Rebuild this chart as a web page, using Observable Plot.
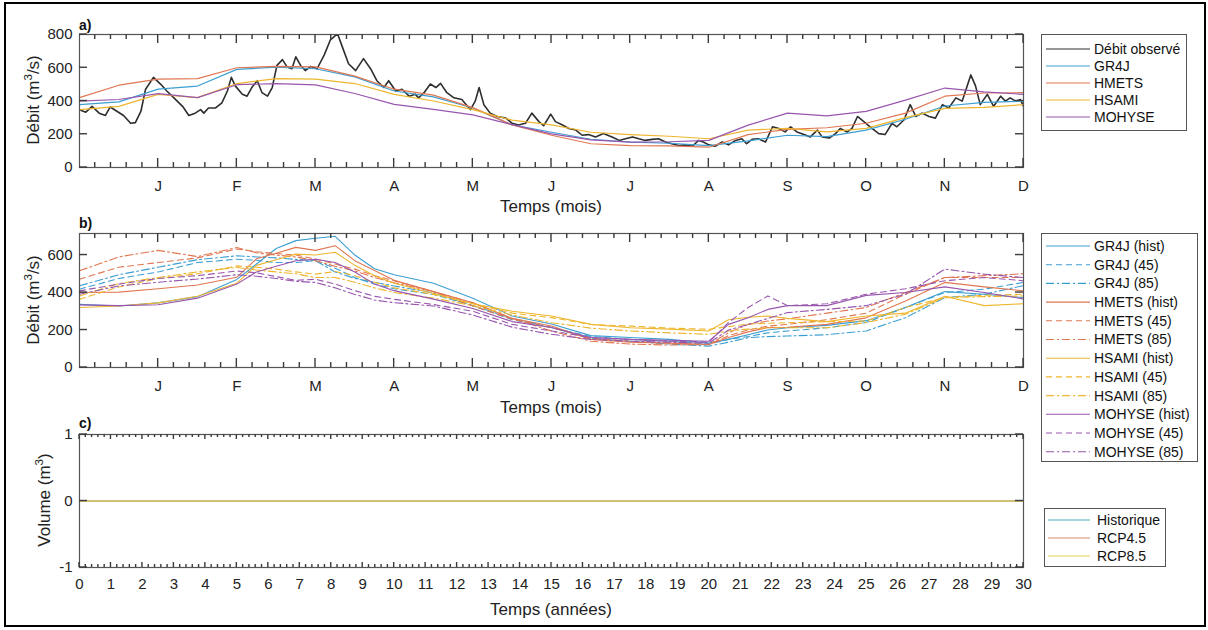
<!DOCTYPE html>
<html><head><meta charset="utf-8">
<script src="https://cdn.jsdelivr.net/npm/d3@7"></script>
<script src="https://cdn.jsdelivr.net/npm/@observablehq/plot@0.6"></script>
<style>
body{margin:0;background:#fff;font-family:"Liberation Sans",Arial,sans-serif;}
#fig{position:relative;width:1208px;height:630px;overflow:hidden;background:#fff}
#fig svg{position:absolute}
.border{position:absolute;left:4px;top:2px;width:1202px;height:625px;border:2px solid #000;box-sizing:border-box}
.lab{position:absolute;font-size:17px;color:#222;white-space:nowrap;transform:translate(-50%,-50%)}
.ylab{position:absolute;font-size:17px;color:#222;white-space:nowrap;transform:translate(-50%,-50%) rotate(-90deg)}
.plab{position:absolute;font-size:14px;font-weight:bold;color:#111;line-height:1}
sup{font-size:0.68em;line-height:0}
</style></head><body><div id="fig"><div class="border"></div></div>
<script>
// ---------- DATA ----------
const monthTicks = [1,2,3,4,5,6,7,8,9,10,11,12];
const monthLabels = ["J","F","M","A","M","J","J","A","S","O","N","D"];
const yTicksA = [0,200,400,600,800];
const yTicksB = [0,200,400,600];
const yTicksC = [-1,0,1];
const yearTicks = [0,1,2,3,4,5,6,7,8,9,10,11,12,13,14,15,16,17,18,19,20,21,22,23,24,25,26,27,28,29,30];

// Panel a) observed discharge (time in months, m3/s)
const obsT = [0,0.08,0.16,0.25,0.33,0.39,0.48,0.56,0.65,0.71,0.78,0.84,0.94,1.03,1.11,1.20,1.31,1.39,1.47,1.54,1.58,1.64,1.73,1.81,1.88,1.93,1.98,2.07,2.13,2.19,2.26,2.32,2.39,2.45,2.51,2.58,2.64,2.70,2.75,2.81,2.87,2.94,3.02,3.11,3.19,3.28,3.34,3.42,3.51,3.61,3.70,3.78,3.87,3.93,4.02,4.10,4.19,4.27,4.31,4.38,4.46,4.53,4.59,4.67,4.76,4.86,4.97,5.03,5.08,5.14,5.22,5.31,5.42,5.50,5.58,5.67,5.75,5.84,5.90,
  5.99,6.05,6.14,6.22,6.31,6.39,6.47,6.56,6.66,6.77,6.86,6.94,7.03,7.11,7.19,7.28,7.36,7.45,7.53,7.62,7.70,7.79,7.87,7.93,8.00,8.08,8.17,8.25,8.34,8.42,8.48,8.55,8.63,8.72,8.81,8.89,8.97,9.04,9.12,9.21,9.29,9.38,9.44,9.53,9.61,9.67,9.76,9.82,9.89,9.97,10.05,10.16,10.24,10.33,10.39,10.48,10.56,10.63,10.71,10.80,10.88,10.97,11.05,11.14,11.22,11.33,11.39,11.45,11.54,11.62,11.71,11.77,11.83,11.90,11.96,12.00];
const obsQ = [348,333,368,327,313,364,337,313,266,270,337,471,542,502,460,419,368,313,327,348,327,358,358,389,460,542,491,440,429,481,522,450,429,481,614,649,604,594,666,614,583,608,594,676,768,805,727,624,583,655,594,522,481,522,460,471,429,440,419,450,502,481,506,450,419,409,348,399,481,378,327,307,297,266,256,266,327,276,251,
  321,276,256,235,225,194,198,184,204,184,163,173,184,173,163,169,173,153,143,132,136,128,163,153,136,128,153,136,163,173,143,169,173,153,245,235,214,245,214,198,184,225,184,177,204,235,214,235,307,276,245,204,198,266,245,286,378,307,327,307,297,378,358,419,399,557,491,378,440,368,429,399,419,399,409,368];

// Panel a) simulated (calibration) discharge, every half month
const tA = [0,0.5,1,1.5,2,2.5,3,3.5,4,4.5,5,5.5,6,6.5,7,7.5,8,8.5,9,9.5,10,10.5,11,11.5,12];
const gr4jA   = [378,395,471,490,590,604,594,545,460,425,358,256,212,170,153,146,132,160,194,186,225,290,370,392,399];
const hmetsA  = [420,495,532,535,600,608,605,550,471,435,360,256,194,143,132,130,122,198,229,239,266,327,429,448,450];
const hsamiA  = [348,368,440,420,505,535,532,505,440,400,348,285,256,212,198,188,173,225,235,214,235,300,356,362,378];
const mohyseA = [399,409,444,420,498,504,497,445,380,350,317,258,202,166,153,155,163,255,327,310,338,405,478,455,440];

// Panel b) hist / RCP4.5 / RCP8.5 discharge
const tB = [0,0.5,1,1.5,2,2.25,2.5,2.75,3,3.25,3.5,3.75,4,4.5,5,5.5,6,6.5,7,7.5,8,8.25,8.5,8.75,9,9.5,10,10.5,11,11.5,12];
const gr4jHist   = [337,328,345,378,470,552,635,677,690,700,600,527,495,450,370,275,232,170,160,150,130,150,175,200,212,225,250,320,405,391,373];
const gr4j45     = [418,475,510,560,578,572,560,560,570,530,480,445,420,390,330,255,213,165,150,140,125,150,165,185,195,212,240,320,400,418,454];
const gr4j85     = [436,495,535,575,596,590,585,577,570,510,475,455,435,398,330,262,213,155,140,125,114,135,159,165,168,175,195,266,373,391,437];
const hmetsHist  = [400,402,420,440,482,580,610,641,625,650,570,518,465,405,345,262,221,150,135,130,123,160,190,213,215,230,265,355,454,430,409];
const hmets45    = [471,535,560,585,632,618,608,600,579,552,525,490,463,405,328,258,213,155,140,130,122,170,200,221,230,255,290,391,480,480,480];
const hmets85    = [516,590,625,592,640,612,600,590,570,540,515,480,452,405,345,262,195,140,125,120,123,185,230,248,260,290,320,400,480,490,500];
const hsamiHist  = [320,328,345,380,450,545,575,605,600,615,545,490,450,395,340,300,275,230,212,205,195,255,268,275,262,245,275,290,380,330,340];
const hsami45    = [364,430,475,500,542,535,525,510,498,512,490,455,425,390,340,290,266,230,221,210,204,218,232,236,239,244,248,320,373,385,391];
const hsami85    = [382,448,480,510,534,520,510,500,480,480,455,425,400,370,330,280,239,210,195,185,177,195,205,212,212,212,240,284,373,378,382];
const mohyseHist = [334,330,335,370,445,510,540,570,578,560,510,445,410,365,315,245,213,160,150,145,140,230,266,310,330,330,385,400,430,400,366];
const mohyse45   = [409,445,475,490,515,505,485,465,471,445,410,380,364,336,300,230,195,160,150,140,135,240,320,382,330,340,391,420,463,480,463];
const mohyse85   = [391,435,455,472,495,487,475,460,454,425,390,360,346,328,280,215,177,150,140,135,130,200,230,262,293,310,330,391,525,498,480];

// Panel c) volume (years)
const yearsC = [0,30];
const histC = [0,0];
const rcp45C = [0,0];
const rcp85C = [0,0];

// ---------- STYLE ----------
const colors = {GR4J:"#3c9fd2", HMETS:"#e07752", HSAMI:"#eeb62e", MOHYSE:"#9856ad", obs:"#2e2e2e",
                Historique:"#46a9b6", "RCP4.5":"#de8a70", "RCP8.5":"#e4d244"};
const dashes = {hist:null, "45":"6,4", "85":"8,3,2,3"};
const font = "'Liberation Sans', Arial, sans-serif";
const fig = document.getElementById("fig");

const seriesA = [
  {name:"Débit observé", color:colors.obs, t:obsT, v:obsQ, w:1.6},
  {name:"GR4J", color:colors.GR4J, t:tA, v:gr4jA, w:1.2},
  {name:"HMETS", color:colors.HMETS, t:tA, v:hmetsA, w:1.2},
  {name:"HSAMI", color:colors.HSAMI, t:tA, v:hsamiA, w:1.2},
  {name:"MOHYSE", color:colors.MOHYSE, t:tA, v:mohyseA, w:1.2}
];
const bDefs = [
  ["GR4J","hist",gr4jHist],["GR4J","45",gr4j45],["GR4J","85",gr4j85],
  ["HMETS","hist",hmetsHist],["HMETS","45",hmets45],["HMETS","85",hmets85],
  ["HSAMI","hist",hsamiHist],["HSAMI","45",hsami45],["HSAMI","85",hsami85],
  ["MOHYSE","hist",mohyseHist],["MOHYSE","45",mohyse45],["MOHYSE","85",mohyse85]
];
const seriesB = bDefs.map(([m,s,v]) => ({name:`${m} (${s})`, color:colors[m], dash:dashes[s], t:tB, v, w:1.1}));
const seriesC = [
  {name:"Historique", color:colors.Historique, t:yearsC, v:histC, w:1.2},
  {name:"RCP4.5", color:colors["RCP4.5"], t:yearsC, v:rcp45C, w:1.2},
  {name:"RCP8.5", color:colors["RCP8.5"], t:yearsC, v:rcp85C, w:1.2}
];

function lineMarks(series) {
  return series.map(s => Plot.line(s.t.map((t,i)=>({t, q:s.v[i]})),
    {x:"t", y:"q", stroke:s.color, strokeWidth:s.w, strokeDasharray:s.dash || undefined, clip:true}));
}

function panel({top, height, mt, mb, xDomain, xTicks, xFmt, xPad, yDomain, yTicks, yFmt, minorX, majorLen, minorLen, yLen, marks}) {
  const left = 79, right = 1023, W = 1208;
  const ts = "#3a3a3a";
  const svg = Plot.plot({
    width: W, height, marginLeft: left, marginRight: W - right, marginTop: mt, marginBottom: mb,
    style: {fontFamily: font, fontSize: "15px", color: "#222", background: "transparent", overflow: "visible"},
    x: {domain: xDomain, ticks: xTicks, tickFormat: xFmt, tickSize: 0, tickPadding: xPad, label: null},
    y: {domain: yDomain, ticks: yTicks, tickFormat: yFmt, tickSize: 0, tickPadding: 7, label: null},
    marks: [...marks, Plot.frame({stroke: "#555", strokeWidth: 1.2})]
  });
  // MATLAB-style inward ticks on all four sides, positioned with the plot's own scales
  const sx = svg.scale("x"), sy = svg.scale("y");
  const yb = sy.apply(yDomain[0]), yt = sy.apply(yDomain[1]);
  const xl = sx.apply(xDomain[0]), xr = sx.apply(xDomain[1]);
  const g = d3.select(svg).append("g").attr("stroke", ts).attr("stroke-width", 1.4).attr("fill", "none");
  const addV = (vals, len) => vals.forEach(v => {
    const px = sx.apply(v);
    g.append("line").attr("x1", px).attr("x2", px).attr("y1", yb).attr("y2", yb - len);
    g.append("line").attr("x1", px).attr("x2", px).attr("y1", yt).attr("y2", yt + len);
  });
  addV(minorX, minorLen);
  addV(xTicks, majorLen);
  yTicks.forEach(v => {
    const py = sy.apply(v);
    g.append("line").attr("x1", xl).attr("x2", xl + yLen).attr("y1", py).attr("y2", py);
    g.append("line").attr("x1", xr).attr("x2", xr - yLen).attr("y1", py).attr("y2", py);
  });
  svg.style.left = "0px";
  svg.style.top = top + "px";
  fig.appendChild(svg);
}

const minorMonths = d3.range(0, 12.0001, 0.2).filter(d => Math.abs(d - Math.round(d)) > 1e-6);
const minorYears = d3.range(0, 30.0001, 0.2).filter(d => Math.abs(d - Math.round(d)) > 1e-6);
const monthFmt = d => monthLabels[monthTicks.indexOf(d)];
const plainFmt = d => String(d);

panel({top:0, height:215, mt:34, mb:48, xDomain:[0,12], xTicks:monthTicks, xFmt:monthFmt, xPad:13,
  yDomain:[0,800], yTicks:yTicksA, yFmt:plainFmt, minorX:minorMonths, majorLen:9, minorLen:5, yLen:8, marks:lineMarks(seriesA)});
panel({top:215, height:200, mt:18, mb:48, xDomain:[0,12], xTicks:monthTicks, xFmt:monthFmt, xPad:13,
  yDomain:[0,715], yTicks:yTicksB, yFmt:plainFmt, minorX:minorMonths, majorLen:9, minorLen:5, yLen:8, marks:lineMarks(seriesB)});
panel({top:415, height:215, mt:19, mb:63, xDomain:[0,30], xTicks:yearTicks, xFmt:plainFmt, xPad:11,
  yDomain:[-1,1], yTicks:yTicksC, yFmt:plainFmt, minorX:minorYears, majorLen:5, minorLen:3, yLen:8, marks:lineMarks(seriesC)});

// ---------- LABELS ----------
function addDiv(cls, html, x, y) {
  const d = document.createElement("div");
  d.className = cls; d.innerHTML = html;
  d.style.left = x + "px"; d.style.top = y + "px";
  fig.appendChild(d);
}
addDiv("plab", "a)", 79, 18);
addDiv("plab", "b)", 79, 216);
addDiv("plab", "c)", 79, 416);
addDiv("lab", "Temps (mois)", 551, 207);
addDiv("lab", "Temps (mois)", 551, 408);
addDiv("lab", "Temps (années)", 551, 610);
addDiv("ylab", "Débit (m<sup>3</sup>/s)", 34, 100);
addDiv("ylab", "Débit (m<sup>3</sup>/s)", 34, 300);
addDiv("ylab", "Volume (m<sup>3</sup>)", 45, 500);

// ---------- LEGENDS ----------
function legend({left, top, width, height, series, y0, step, lx0, lx1, tx}) {
  const svg = d3.create("svg").attr("width", width).attr("height", height)
    .style("left", left + "px").style("top", top + "px");
  svg.append("rect").attr("x", 0.5).attr("y", 0.5).attr("width", width - 1).attr("height", height - 1)
    .attr("fill", "#fff").attr("stroke", "#555");
  series.forEach((s, i) => {
    const y = y0 - top + i * step;
    svg.append("line").attr("x1", lx0 - left).attr("x2", lx1 - left).attr("y1", y).attr("y2", y)
      .attr("stroke", s.color).attr("stroke-width", s.w).attr("stroke-dasharray", s.dash || null);
    svg.append("text").attr("x", tx - left).attr("y", y).attr("dy", "0.35em")
      .attr("font-family", font).attr("font-size", 14).attr("fill", "#111").text(s.name);
  });
  fig.appendChild(svg.node());
}
legend({left:1041, top:34, width:146, height:97, series:seriesA.map(s=>({...s, w:1.1})), y0:49, step:17, lx0:1046, lx1:1090, tx:1094});
legend({left:1041, top:233, width:157, height:229, series:seriesB, y0:246, step:18.7, lx0:1046, lx1:1090, tx:1094});
legend({left:1044, top:508, width:122, height:59, series:seriesC, y0:520, step:18, lx0:1048, lx1:1090, tx:1097});
</script></body></html>
